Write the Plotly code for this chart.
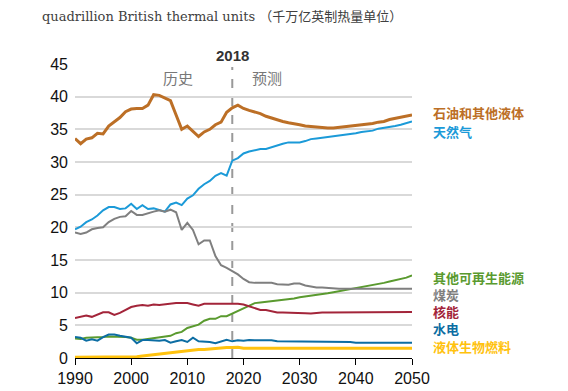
import plotly.graph_objects as go

years = list(range(1990, 2051))

oil = [33.6, 32.8, 33.5, 33.7, 34.4, 34.3, 35.5, 36.1, 36.8, 37.7,
       38.1, 38.2, 38.2, 38.7, 40.3, 40.2, 39.8, 39.4, 37.2, 35.0,
       35.5, 34.7, 33.9, 34.6, 35.0, 35.7, 36.1, 37.6, 38.3, 38.7,
       38.2, 37.9, 37.7, 37.4, 37.0, 36.7, 36.4, 36.2, 36.0, 35.9,
       35.7, 35.5, 35.4, 35.4, 35.3, 35.2, 35.2, 35.3, 35.4, 35.5,
       35.5, 35.6, 35.7, 35.9, 36.1, 36.2, 36.5, 36.7, 36.9, 37.1, 37.2]

gas = [19.7, 20.1, 20.8, 21.2, 21.8, 22.6, 23.1, 23.1, 22.8, 22.9,
       23.6, 22.8, 23.4, 22.8, 22.9, 22.7, 22.4, 23.5, 23.8, 23.4,
       24.4, 24.9, 25.9, 26.6, 27.1, 27.9, 28.3, 27.9, 30.2, 30.6,
       31.3, 31.6, 31.8, 32.0, 32.0, 32.3, 32.6, 32.8, 33.0, 33.0,
       33.0, 33.2, 33.5, 33.6, 33.7, 33.9, 33.9, 34.0, 34.1, 34.3,
       34.4, 34.6, 34.7, 34.8, 35.1, 35.2, 35.4, 35.5, 35.7, 35.9, 36.2]

coal = [19.2, 19.0, 19.2, 19.7, 19.9, 20.0, 20.8, 21.3, 21.6, 21.7,
        22.5, 21.9, 21.9, 22.2, 22.4, 22.6, 22.4, 22.7, 22.3, 19.6,
        20.7, 19.6, 17.4, 18.0, 18.0, 15.6, 14.2, 13.8, 13.3, 12.8,
        12.1, 11.6, 11.5, 11.5, 11.6, 11.5, 11.3, 11.2, 11.2, 11.4,
        11.4, 11.1, 10.9, 10.8, 10.8, 10.7, 10.6, 10.6, 10.6, 10.6,
        10.6, 10.6, 10.5, 10.5, 10.5, 10.5, 10.5, 10.5, 10.6, 10.6, 10.6]

renew = [3.0, 2.9, 3.1, 3.1, 3.1, 3.2, 3.3, 3.3, 3.2, 3.2,
         3.1, 2.8, 2.8, 2.9, 3.0, 3.1, 3.3, 3.4, 3.8, 4.0,
         4.6, 4.9, 5.1, 5.7, 6.0, 6.0, 6.4, 6.4, 6.8, 7.2,
         7.7, 8.1, 8.4, 8.5, 8.6, 8.7, 8.7, 8.8, 9.0, 9.1,
         9.3, 9.4, 9.5, 9.6, 9.7, 9.9, 10.05, 10.2, 10.4, 10.6,
         10.7, 10.9, 11.0, 11.2, 11.3, 11.5, 11.7, 11.9, 12.1, 12.3, 12.65]

nuclear = [6.1, 6.3, 6.5, 6.3, 6.6, 7.0, 7.0, 6.6, 6.9, 7.4,
           7.8, 8.0, 8.1, 8.0, 8.2, 8.1, 8.2, 8.4, 8.4, 8.4,
           8.4, 8.2, 8.0, 8.3, 8.3, 8.3, 8.4, 8.4, 8.4, 8.3,
           8.2, 7.9, 7.55, 7.35, 7.35, 7.1, 6.95, 6.95, 6.95, 6.95,
           6.95, 6.85, 6.8, 6.9, 6.95, 6.95, 6.95, 6.95, 6.95, 6.95,
           6.95, 6.95, 6.95, 6.95, 6.95, 6.95, 7.05, 7.05, 7.05, 7.05, 7.05]

hydro = [3.2, 3.1, 2.65, 2.85, 2.65, 3.2, 3.6, 3.6, 3.4, 3.3,
         3.1, 2.25, 2.75, 2.75, 2.65, 2.65, 2.75, 2.35, 2.55, 2.75,
         2.45, 3.1, 2.55, 2.55, 2.45, 2.25, 2.55, 2.8, 2.55, 2.7,
         2.65, 2.75, 2.7, 2.7, 2.7, 2.7, 2.55, 2.55, 2.55, 2.55,
         2.55, 2.55, 2.55, 2.55, 2.55, 2.55, 2.55, 2.55, 2.5, 2.45,
         2.35, 2.35, 2.35, 2.35, 2.35, 2.35, 2.35, 2.35, 2.35, 2.35, 2.35]

biofuel = [0.1, 0.1, 0.1, 0.1, 0.1, 0.1, 0.1, 0.1, 0.1, 0.15,
           0.2, 0.2, 0.3, 0.4, 0.5, 0.6, 0.7, 0.8, 1.0, 1.1,
           1.2, 1.2, 1.3, 1.3, 1.4, 1.4, 1.5, 1.6, 1.6, 1.65,
           1.5, 1.5, 1.5, 1.5, 1.5, 1.5, 1.5, 1.5, 1.5, 1.5,
           1.5, 1.5, 1.5, 1.5, 1.5, 1.5, 1.5, 1.5, 1.5, 1.5,
           1.5, 1.5, 1.5, 1.5, 1.5, 1.5, 1.5, 1.5, 1.5, 1.5, 1.5]

x_ticks = [1990, 2000, 2010, 2020, 2030, 2040, 2050]
y_ticks = [0, 5, 10, 15, 20, 25, 30, 35, 40, 45]

series = [
    ("石油和其他液体", oil, "#BC6F26", 3.0, 113),
    ("天然气", gas, "#1B9AD8", 2.0, 131),
    ("其他可再生能源", renew, "#5A9A2F", 2.0, 277),
    ("煤炭", coal, "#7F7F7F", 2.0, 294),
    ("核能", nuclear, "#A3253A", 2.0, 311),
    ("水电", hydro, "#0C6DA3", 2.0, 328),
    ("液体生物燃料", biofuel, "#FFC20E", 3.0, 346),
]

# page body has an 8px margin; compensate so the figure lands where the reference is
OFF = 8
W, H = 568 - OFF, 391 - OFF
PL, PR, PT, PB = 75, 412, 64, 358   # target plot box in window pixels
L, T = PL - OFF, PT - OFF
R = W - (PR - OFF)
B = H - (PB - OFF)
pw, ph = PR - PL, PB - PT


def px_x(x):
    return (x - PL) / pw


def px_y(y):
    return (PB - y) / ph


fig = go.Figure()
for name, vals, color, w, ly in series:
    fig.add_trace(go.Scatter(x=years, y=vals, mode="lines", name=name,
                             line=dict(color=color, width=w), showlegend=False,
                             hoverinfo="skip"))

anns = []
for name, vals, color, w, ly in series:
    anns.append(dict(text="<b>" + name + "</b>", xref="paper", yref="paper",
                     x=px_x(431), y=px_y(ly),
                     xanchor="left", yanchor="middle", showarrow=False,
                     font=dict(family="Noto Sans CJK SC", size=13, color=color)))

anns.append(dict(text="quadrillion British thermal units （千万亿英制热量单位）",
                 xref="paper", yref="paper", x=px_x(40),
                 y=px_y(16), xanchor="left", yanchor="middle",
                 showarrow=False,
                 font=dict(family="DejaVu Serif, Noto Sans CJK SC", size=13, color="#404040")))
anns.append(dict(text="<b>2018</b>", xref="x", yref="paper", x=2018,
                 y=px_y(56), xanchor="center", yanchor="middle",
                 showarrow=False, font=dict(family="Arial, Liberation Sans", size=15, color="#333333")))
anns.append(dict(text="历史", xref="x", yref="y", x=2008.4, y=42.9,
                 xanchor="center", yanchor="middle", showarrow=False,
                 font=dict(family="Noto Sans CJK SC", size=15, color="#777777")))
anns.append(dict(text="预测", xref="x", yref="y", x=2024.1, y=42.9,
                 xanchor="center", yanchor="middle", showarrow=False,
                 font=dict(family="Noto Sans CJK SC", size=15, color="#777777")))

fig.add_shape(type="line", xref="x", yref="paper", x0=2018, x1=2018, y0=0, y1=0.99,
              line=dict(color="#999999", width=2, dash="dash"), layer="below")

fig.update_layout(
    width=W, height=H,
    margin=dict(l=L, r=R, t=T, b=B, autoexpand=False),
    paper_bgcolor="white", plot_bgcolor="white",
    annotations=anns,
    xaxis=dict(range=[1990, 2050], tickmode="array",
               tickvals=x_ticks, ticktext=[str(v) for v in x_ticks],
               showgrid=False, zeroline=False, showline=True, linecolor="black",
               linewidth=1, ticks="outside", ticklen=6, tickcolor="black",
               automargin=False,
               tickfont=dict(family="Arial, Liberation Sans", size=16, color="#111111")),
    yaxis=dict(range=[0, 45], tickmode="array", tickvals=y_ticks,
               showgrid=True, gridcolor="#D9D9D9", gridwidth=1.5, zeroline=False,
               showline=False, ticks="", ticklabelstandoff=6, automargin=False,
               tickfont=dict(family="Arial, Liberation Sans", size=16, color="#111111")),
)

fig.write_html("out.html")
